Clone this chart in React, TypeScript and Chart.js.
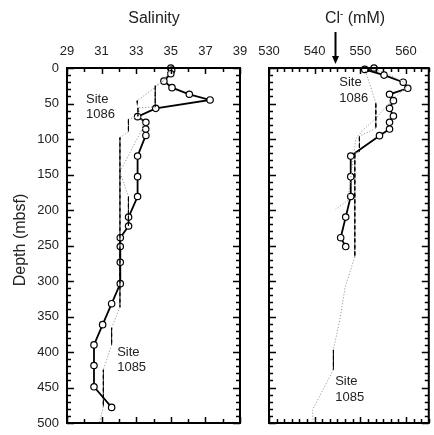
import React, { useEffect, useRef } from 'react';
import { Chart, registerables } from 'chart.js';

Chart.register(...registerables);

const FONT = '"Liberation Sans", Arial, Helvetica, sans-serif';

// ---------- Salinity panel ----------
const salTickLabels = ['29', '31', '33', '35', '37', '39'];
const salTickValues = [29, 30, 31, 32, 33, 34, 35, 36, 37, 38, 39];
const depthTickLabels = ['0', '50', '100', '150', '200', '250', '300', '350', '400', '450', '500'];
const depthTickValues = Array.from({ length: 51 }, (_, i) => i * 10);

// solid line with open circles
const salCircle = [35.0, 35.05, 35.0, 34.6, 35.07, 36.07, 37.27, 34.13, 33.08, 33.56, 33.55, 33.56, 33.08, 33.08, 33.08, 32.56, 32.56, 32.08, 32.08, 32.08, 32.08, 31.58, 31.06, 30.56, 30.56, 30.56, 31.58];
const salCircleDepth = [0, 3, 8, 18.5, 27.7, 37, 45, 56.8, 68.5, 76.5, 86, 95, 124, 153, 181, 210, 222.5, 239, 251.5, 273.6, 303.7, 332, 361.5, 390, 419, 449, 478];
// dashed / dotted profile (Site 1085)
const salStep = [35.0, 34.6, 34.1, 34.1, 33.1, 33.1, 32.55, 32.55, 32.06, 32.06, 32.06, 31.58, 31.58, 31.1, 31.1, 30.87];
const salStepDepth = [0, 18, 25, 55, 56, 68, 72, 90, 98, 200, 337, 366, 390, 425, 477, 500];
// second dotted profile
const salDot = [35.0, 34.4, 33.06, 33.06, 33.41, 32.06, 32.55, 32.55];
const salDotDepth = [5, 22, 46, 52, 83, 146, 181, 222];

// ---------- Chloride panel ----------
const clTickLabels = ['530', '540', '550', '560'];
const clTickValues = Array.from({ length: 22 }, (_, k) => 530 + (k * 10) / 6);
const clArrowValue = 544.5;

const clCircle = [553.0, 550.98, 555.2, 559.4, 560.4, 556.4, 557.25, 556.4, 557.25, 556.4, 556.4, 554.2, 547.9, 547.9, 547.9, 546.8, 545.7, 546.8];
const clCircleDepth = [0, 2, 10, 20, 28.6, 37, 46, 56.8, 67.6, 76.5, 86, 95.3, 124, 153, 181, 210, 239, 251.5];
const clStep = [550.9, 553.4, 553.4, 549.8, 549.8, 548.8, 548.8, 546.7, 545.5, 544.1, 544.1, 539.5, 539.7];
const clStepDepth = [0, 49, 85, 96, 118, 120, 266, 308, 355, 397, 425, 482, 500];
const clDot = [552.0, 556.0, 560.6, 557.0, 553.5, 550.5, 549.0, 548.0, 547.3, 544.6];
const clDotDepth = [0, 8, 24, 45, 70, 88, 100, 150, 186, 199];

const toPts = (xs: number[], ys: number[]) => xs.map((v, i) => ({ x: v, y: ys[i] }));

const isVertical = (ctx: any) => Math.abs(ctx.p0.parsed.x - ctx.p1.parsed.x) < 1e-6;
const segStyle = {
  borderColor: (ctx: any) => (isVertical(ctx) ? '#000' : '#9a9a9a'),
  borderDash: (ctx: any) => (isVertical(ctx) ? [4, 2.5] : [1.2, 1.8]),
};

const matchLabel = (labels: string[], v: number) => {
  const hit = labels.find((l) => Math.abs(Number(l) - v) < 1e-6);
  return hit === undefined ? '' : hit;
};

const zeroPad = (s: any) => {
  s.paddingLeft = 0;
  s.paddingRight = 0;
  s.paddingTop = 0;
  s.paddingBottom = 0;
};

const framePlugin = {
  id: 'frameTicks',
  afterDraw(chart: any, _args: any, opts: any) {
    const { ctx, chartArea: a, scales } = chart;
    const xs = scales.x;
    const ys = scales.y;
    ctx.save();
    ctx.strokeStyle = '#000';
    ctx.lineWidth = 1.5;
    ctx.beginPath();
    xs.ticks.forEach((t: any) => {
      const px = Math.round(xs.getPixelForValue(t.value)) + 0.5;
      const len = matchLabel(opts.xLabels, t.value) ? 6 : 4;
      ctx.moveTo(px, a.top);
      ctx.lineTo(px, a.top + len);
      ctx.moveTo(px, a.bottom);
      ctx.lineTo(px, a.bottom - len);
    });
    ys.ticks.forEach((t: any) => {
      const py = Math.round(ys.getPixelForValue(t.value)) + 0.5;
      const len = matchLabel(opts.yLabels, t.value) ? 7 : 4;
      ctx.moveTo(a.left, py);
      ctx.lineTo(a.left + len, py);
      ctx.moveTo(a.right, py);
      ctx.lineTo(a.right - len, py);
    });
    ctx.stroke();
    ctx.lineWidth = 2;
    ctx.strokeRect(a.left, a.top, a.right - a.left, a.bottom - a.top);

    ctx.fillStyle = '#222';
    ctx.font = `13px ${FONT}`;
    ctx.textAlign = 'left';
    ctx.textBaseline = 'middle';
    (opts.texts || []).forEach((t: any) => {
      const px = xs.getPixelForValue(t.x);
      const py = ys.getPixelForValue(t.y);
      t.lines.forEach((line: string, i: number) => ctx.fillText(line, px, py + i * 15.5));
    });

    if (opts.arrow !== undefined) {
      const px = Math.round(xs.getPixelForValue(opts.arrow)) + 0.5;
      ctx.strokeStyle = '#000';
      ctx.fillStyle = '#000';
      ctx.lineWidth = 2;
      ctx.beginPath();
      ctx.moveTo(px, 32);
      ctx.lineTo(px, a.top - 10);
      ctx.stroke();
      ctx.beginPath();
      ctx.moveTo(px - 3.5, a.top - 12);
      ctx.lineTo(px + 3.5, a.top - 12);
      ctx.lineTo(px, a.top - 4);
      ctx.closePath();
      ctx.fill();
    }
    ctx.restore();
  },
};

function buildConfig(p: any): any {
  return {
    type: 'scatter',
    data: {
      datasets: [
        {
          data: p.step,
          showLine: true,
          pointRadius: 0,
          borderWidth: 1,
          borderColor: '#000',
          segment: segStyle,
          clip: false,
        },
        {
          data: p.dot,
          showLine: true,
          pointRadius: 0,
          borderWidth: 1,
          borderColor: '#9a9a9a',
          segment: segStyle,
          clip: false,
        },
        {
          data: p.circle,
          showLine: true,
          borderColor: '#000',
          borderWidth: 1.8,
          pointRadius: 3.2,
          pointBackgroundColor: '#fff',
          pointBorderColor: '#000',
          pointBorderWidth: 1.2,
          clip: false,
        },
      ],
    },
    options: {
      animation: false,
      responsive: false,
      events: [],
      layout: { padding: { left: 0, right: p.padRight, top: 0, bottom: 12 } },
      plugins: {
        legend: { display: false },
        tooltip: { enabled: false },
        frameTicks: { xLabels: p.xLabels, yLabels: depthTickLabels, texts: p.texts, arrow: p.arrow },
      },
      scales: {
        x: {
          type: 'linear',
          position: 'top',
          min: p.xMin,
          max: p.xMax,
          grid: { display: false, drawTicks: false },
          border: { display: false },
          ticks: {
            autoSkip: false,
            maxRotation: 0,
            padding: 9,
            color: '#222',
            font: { family: FONT, size: 13 },
            callback: (v: number) => matchLabel(p.xLabels, v),
          },
          afterBuildTicks: (s: any) => {
            s.ticks = p.xTicks.map((v: number) => ({ value: v }));
          },
          afterFit: (s: any) => {
            s.height = 68;
            zeroPad(s);
          },
        },
        y: {
          type: 'linear',
          reverse: true,
          min: 0,
          max: 500,
          grid: { display: false, drawTicks: false },
          border: { display: false },
          ticks: {
            display: p.showY,
            autoSkip: false,
            padding: 8,
            color: '#222',
            font: { family: FONT, size: 13 },
            callback: (v: number) => matchLabel(depthTickLabels, v),
          },
          afterBuildTicks: (s: any) => {
            s.ticks = depthTickValues.map((v) => ({ value: v }));
          },
          afterFit: (s: any) => {
            s.width = p.yWidth;
            zeroPad(s);
          },
        },
      },
    },
    plugins: [framePlugin],
  };
}

function ChartCanvas({ params, width, height, left }: any) {
  const ref = useRef<HTMLCanvasElement | null>(null);
  useEffect(() => {
    if (!ref.current) return;
    const chart = new Chart(ref.current, buildConfig(params));
    return () => chart.destroy();
  }, []);
  return (
    <canvas
      ref={ref}
      width={width}
      height={height}
      style={{ position: 'absolute', left, top: 0, width, height, display: 'block' }}
    />
  );
}

const salParams = {
  step: toPts(salStep, salStepDepth),
  dot: toPts(salDot, salDotDepth),
  circle: toPts(salCircle, salCircleDepth),
  xMin: 29,
  xMax: 39,
  xTicks: salTickValues,
  xLabels: salTickLabels,
  yWidth: 67,
  padRight: 10,
  showY: true,
  texts: [
    { x: 30.1, y: 44, lines: ['Site', '1086'] },
    { x: 31.9, y: 400.5, lines: ['Site', '1085'] },
  ],
};

const clParams = {
  step: toPts(clStep, clStepDepth),
  dot: toPts(clDot, clDotDepth),
  circle: toPts(clCircle, clCircleDepth),
  xMin: 530,
  xMax: 565,
  xTicks: clTickValues,
  xLabels: clTickLabels,
  yWidth: 19,
  padRight: 1,
  showY: false,
  arrow: clArrowValue,
  texts: [
    { x: 545.4, y: 21, lines: ['Site', '1086'] },
    { x: 544.5, y: 442, lines: ['Site', '1085'] },
  ],
};

export default function App() {
  const titleStyle: any = {
    position: 'absolute',
    top: 9,
    width: 120,
    textAlign: 'center',
    fontFamily: FONT,
    fontSize: 16,
    lineHeight: '18px',
    color: '#222',
    whiteSpace: 'nowrap',
  };
  return (
    <div style={{ position: 'absolute', left: 0, top: 0, width: 434, height: 435, background: '#fff', overflow: 'hidden' }}>
      <ChartCanvas params={salParams} width={250} height={435} left={0} />
      <ChartCanvas params={clParams} width={184} height={435} left={250} />
      <div style={{ ...titleStyle, left: 154 - 60 }}>Salinity</div>
      <div style={{ ...titleStyle, left: 355 - 60 }}>
        Cl<sup style={{ fontSize: 10, lineHeight: 0 }}>-</sup> (mM)
      </div>
      <div
        style={{
          position: 'absolute',
          left: 20 - 70,
          top: 240 - 10,
          width: 140,
          height: 20,
          lineHeight: '20px',
          textAlign: 'center',
          transform: 'rotate(-90deg)',
          fontFamily: FONT,
          fontSize: 16,
          color: '#222',
          whiteSpace: 'nowrap',
        }}
      >
        Depth (mbsf)
      </div>
    </div>
  );
}
